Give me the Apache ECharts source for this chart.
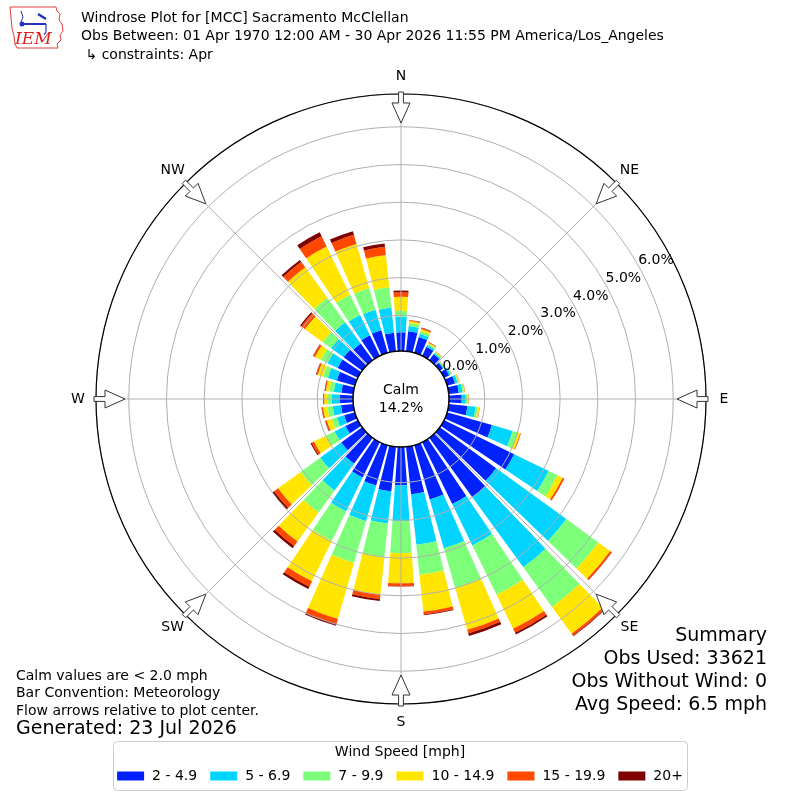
<!DOCTYPE html>
<html><head><meta charset="utf-8">
<script src="https://cdn.jsdelivr.net/npm/echarts@6/dist/echarts.min.js"></script>
<style>html,body{margin:0;padding:0;background:#fff}#c{width:800px;height:800px}</style>
</head><body><div id="c"></div>
<script>
// ---------- data ----------
const directions = [0,10,20,30,40,50,60,70,80,90,100,110,120,130,140,150,160,170,180,190,200,210,220,230,240,250,260,270,280,290,300,310,320,330,340,350];
const speedBins = ['2 - 4.9','5 - 6.9','7 - 9.9','10 - 14.9','15 - 19.9','20+'];
const binColors = ['#0022ff','#00d4ff','#7dff7a','#ffe500','#ff4800','#800000'];
// percent of observations, by direction, for each speed bin
const bin2to4   = [0.55,0.59,0.49,0.32,0.25,0.16,0.20,0.27,0.32,0.39,0.55,1.29,2.12,1.90,2.00,1.88,1.55,1.32,1.07,1.25,1.17,1.10,0.90,0.74,0.42,0.35,0.38,0.40,0.37,0.55,0.65,0.66,0.60,0.66,0.68,0.55];
const bin5to6   = [0.42,0.14,0.09,0.05,0.04,0.03,0.05,0.07,0.10,0.11,0.22,0.57,1.02,2.30,2.30,1.22,1.35,1.35,0.95,0.85,0.98,1.00,0.88,0.69,0.32,0.20,0.22,0.22,0.20,0.25,0.30,0.41,0.70,0.60,0.56,0.67];
const bin7to9   = [0.15,0.08,0.07,0.04,0.025,0.015,0.02,0.03,0.04,0.04,0.06,0.14,0.26,1.05,1.30,1.46,1.10,0.80,0.85,0.90,1.15,0.87,0.72,0.64,0.26,0.14,0.14,0.12,0.12,0.13,0.20,0.28,0.80,0.60,0.60,0.54];
const bin10to14 = [0.37,0.05,0.06,0.03,0.02,0.01,0.01,0.02,0.02,0.03,0.04,0.07,0.15,0.39,0.88,1.00,1.15,0.98,0.80,1.00,1.55,1.19,0.95,0.74,0.35,0.14,0.12,0.08,0.09,0.15,0.17,0.58,1.00,1.42,1.22,0.86];
const bin15to19 = [0.12,0.02,0.03,0.015,0.01,0.005,0.005,0.01,0.01,0.01,0.01,0.02,0.05,0.05,0.06,0.12,0.10,0.08,0.08,0.12,0.14,0.16,0.15,0.13,0.07,0.04,0.03,0.02,0.03,0.04,0.05,0.12,0.18,0.30,0.25,0.22];
const bin20up   = [0.05,0.01,0.01,0.005,0.003,0,0,0,0,0,0,0,0,0.01,0.02,0.05,0.07,0.02,0.01,0.05,0.05,0.07,0.07,0.06,0.03,0.01,0.01,0.01,0.01,0.01,0.01,0.04,0.06,0.12,0.10,0.09];
const compassLabels = ['N','NE','E','SE','S','SW','W','NW'];
const compassAngles = [0,45,90,135,180,225,270,315];
const radialMax = 6.87;       // percent at outer circle
const calmPct = '14.2%';
const titleLines = ['Windrose Plot for [MCC] Sacramento McClellan',
  'Obs Between: 01 Apr 1970 12:00 AM - 30 Apr 2026 11:55 PM America/Los_Angeles',
  ' \u21b3 constraints: Apr'];
const noteLines = ['Calm values are < 2.0 mph','Bar Convention: Meteorology','Flow arrows relative to plot center.'];
const generatedLine = 'Generated: 23 Jul 2026';
const summaryLines = ['Summary','Obs Used: 33621','Obs Without Wind: 0','Avg Speed: 6.5 mph'];

// ---------- layout ----------
const FONT = '"DejaVu Sans", sans-serif';
const CX = 401, CY = 399, RIN = 46, ROUT = 305;
const binData = [bin2to4, bin5to6, bin7to9, bin10to14, bin15to19, bin20up];

function arrow(bearing){
  const t = bearing*Math.PI/180;
  const u = [Math.sin(t), -Math.cos(t)], p = [Math.cos(t), Math.sin(t)];
  const pt = (r, w) => [CX + r*u[0] + w*p[0], CY + r*u[1] + w*p[1]];
  return {type:'polygon', z:40, shape:{points:[pt(307,2.4),pt(296,2.4),pt(296,9),pt(276,0),pt(296,-9),pt(296,-2.4),pt(307,-2.4)]},
    style:{fill:'#fff', stroke:'#333', lineWidth:1}};
}
const txt = (text, x, y, size, align) => ({type:'text', z:60,
  style:{text, x, y, font: size+'px '+FONT, fill:'#000', align: align||'left', verticalAlign:'middle'}});

const graphics = [];
compassAngles.forEach((b,i) => {
  graphics.push(arrow(b));
  const t = b*Math.PI/180;
  graphics.push(txt(compassLabels[i], CX + 323*Math.sin(t), CY - 323*Math.cos(t), 14, 'center'));
});
graphics.push({type:'circle', z:50, shape:{cx:CX, cy:CY, r:48}, style:{fill:'#fff', stroke:'#000', lineWidth:1.5}});
graphics.push(txt('Calm', CX, 390, 14, 'center'));
graphics.push(txt(calmPct, CX, 408, 14, 'center'));
titleLines.forEach((l,i) => graphics.push(txt(l, 81, 18+i*18.5, 14, 'left')));
noteLines.forEach((l,i) => graphics.push(txt(l, 16, 676+i*17.5, 14, 'left')));
graphics.push(txt(generatedLine, 16, 729, 19, 'left'));
summaryLines.forEach((l,i) => graphics.push(txt(l, 767, 636+i*23, 19, 'right')));
// legend frame and title
graphics.push({type:'rect', z:1, shape:{x:113.5, y:741.5, width:574, height:49, r:4}, style:{fill:'#fff', stroke:'#cccccc', lineWidth:1}});
graphics.push(txt('Wind Speed [mph]', 400, 752, 14, 'center'));
// IEM logo (approximation)
graphics.push({type:'polyline', z:60, shape:{points:[[10,7],[56,7],[57,11],[60,14],[59,20],[62,24],[63,31],[60,35],[61,40],[57,44],[58,48],[17,48],[15,44],[14,36],[12,28],[11,18],[10,7]]},
  style:{stroke:'#e04040', fill:null, lineWidth:1}});
graphics.push({type:'text', z:61, style:{text:'IEM', x:15, y:40, font:'italic 17px "DejaVu Serif", "Liberation Serif", serif', fill:'#e02020', verticalAlign:'middle'}});
graphics.push({type:'polyline', z:61, shape:{points:[[22,24],[46,24]]}, style:{stroke:'#2233bb', lineWidth:2}});
graphics.push({type:'circle', z:61, shape:{cx:22, cy:24, r:2.5}, style:{fill:'#2233bb'}});
graphics.push({type:'polyline', z:61, shape:{points:[[38,14],[46,19]]}, style:{stroke:'#2233bb', lineWidth:2.5}});
graphics.push({type:'polyline', z:61, shape:{points:[[46,24],[46,32],[44,35]]}, style:{stroke:'#2233bb', lineWidth:1.2}});
graphics.push({type:'polyline', z:61, shape:{points:[[21,11],[23,17],[21,22]]}, style:{stroke:'#2233bb', lineWidth:1}});

const option = {
  animation:false,
  backgroundColor:'#fff',
  textStyle:{fontFamily:FONT},
  polar:[
    {center:[CX,CY], radius:[67.5, 67.5 + radialMax*37.1]},   // radial tick labels
    {center:[CX,CY], radius:[RIN, ROUT]},                    // grid
    {center:[CX,CY], radius:[RIN, ROUT]}                     // bars
  ],
  angleAxis:[
    {polarIndex:0, type:'value', min:0, max:360, startAngle:28.5, show:false},
    {polarIndex:1, type:'value', min:0, max:360, interval:45, startAngle:90, clockwise:true, z:6,
      axisLine:{show:true, lineStyle:{color:'#000', width:1.2}},
      axisTick:{show:false}, axisLabel:{show:false},
      splitLine:{show:true, lineStyle:{color:'#b0b0b0', width:1}}},
    {polarIndex:2, type:'category', data:directions.map(String), startAngle:95, clockwise:true, show:false}
  ],
  radiusAxis:[
    {polarIndex:0, type:'value', min:0, max:radialMax, interval:1, z:7,
      axisLine:{show:false}, axisTick:{show:false}, splitLine:{show:false},
      axisLabel:{show:true, margin:0, align:'center', verticalAlign:'middle', fontSize:14, color:'#000', fontFamily:FONT,
        showMaxLabel:false, formatter: v => v.toFixed(1)+'%'}},
    {polarIndex:1, type:'value', min:0, max:radialMax, interval:1, z:5,
      axisLine:{show:false}, axisTick:{show:false}, axisLabel:{show:false},
      splitLine:{show:true, lineStyle:{color:'#b0b0b0', width:1}}},
    {polarIndex:2, type:'value', min:0, max:radialMax, show:false}
  ],
  legend:{
    data:speedBins, left:'center', top:764, z:10,
    icon:'rect', itemWidth:27, itemHeight:9, itemGap:13,
    textStyle:{fontSize:14, color:'#000', fontFamily:FONT, padding:[0,0,0,3]},
    selectedMode:false
  },
  series: speedBins.map((name,i) => ({
    type:'bar', name, coordinateSystem:'polar', polarIndex:2, stack:'rose',
    data: binData[i], itemStyle:{color:binColors[i]}, barCategoryGap:'20%', silent:true, z:2
  })),
  graphic: graphics
};
const chart = echarts.init(document.getElementById('c'));
chart.setOption(option);
</script>
</body></html>
